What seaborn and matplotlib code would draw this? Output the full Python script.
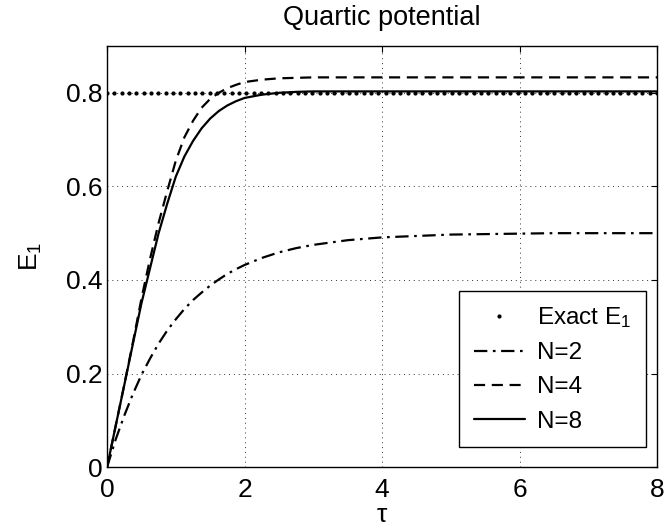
import numpy as np
import pandas as pd
import matplotlib
matplotlib.use("Agg")
import matplotlib.pyplot as plt
import seaborn as sns

# ---- data ----
tau = [0, 0.125, 0.25, 0.375, 0.5, 0.625, 0.75, 0.875, 1.0, 1.125, 1.25, 1.375, 1.5,
       1.625, 1.75, 1.875, 2.0, 2.25, 2.5, 2.75, 3.0, 3.5, 4.0, 4.5, 5.0, 5.5, 6.0,
       6.5, 7.0, 7.5, 8.0]
E_N2 = [0, 0.059, 0.110, 0.156, 0.197, 0.232, 0.264, 0.292, 0.316, 0.338, 0.357,
        0.373, 0.388, 0.401, 0.413, 0.423, 0.432, 0.447, 0.459, 0.468, 0.475, 0.485,
        0.491, 0.494, 0.497, 0.498, 0.499, 0.500, 0.500, 0.500, 0.500]
E_N4 = [0, 0.088, 0.176, 0.266, 0.360, 0.445, 0.522, 0.590, 0.655, 0.705, 0.740,
        0.768, 0.787, 0.800, 0.810, 0.817, 0.823, 0.828, 0.831, 0.832, 0.833, 0.833,
        0.833, 0.833, 0.833, 0.833, 0.833, 0.833, 0.833, 0.833, 0.833]
E_N8 = [0, 0.088, 0.175, 0.263, 0.350, 0.425, 0.500, 0.563, 0.621, 0.664, 0.697,
        0.724, 0.745, 0.761, 0.773, 0.782, 0.789, 0.796, 0.800, 0.802, 0.803, 0.803,
        0.803, 0.803, 0.803, 0.803, 0.803, 0.803, 0.803, 0.803, 0.803]
exact_E1 = 0.800
tau_exact = np.linspace(0, 8, 76)

xticks = [0, 2, 4, 6, 8]
yticks = [0, 0.2, 0.4, 0.6, 0.8]
title = "Quartic potential"

# ---- styling ----
sns.set_style("white")
plt.rcParams['font.family'] = ['Liberation Sans', 'DejaVu Sans']
plt.rcParams['mathtext.fontset'] = 'custom'
plt.rcParams['mathtext.rm'] = 'Liberation Sans'
plt.rcParams['mathtext.it'] = 'Liberation Sans'
plt.rcParams['text.color'] = 'black'
plt.rcParams['axes.labelcolor'] = 'black'
plt.rcParams['xtick.color'] = 'black'
plt.rcParams['ytick.color'] = 'black'

fig = plt.figure(figsize=(6.65, 5.29), dpi=100)
ax = fig.add_axes([0.161, 0.117, 0.827, 0.796])

df_exact = pd.DataFrame({"tau": tau_exact, "E": np.full(len(tau_exact), exact_E1)})
ax.plot(df_exact["tau"], df_exact["E"], linestyle="none", marker=".", markersize=4,
        color="black", label=r"Exact E$_1$", zorder=3)

df = pd.DataFrame({"tau": tau, "N2": E_N2, "N4": E_N4, "N8": E_N8})
sns.lineplot(data=df, x="tau", y="N2", ax=ax, color="black", lw=1.6, label="N=2")
sns.lineplot(data=df, x="tau", y="N4", ax=ax, color="black", lw=1.6, label="N=4")
sns.lineplot(data=df, x="tau", y="N8", ax=ax, color="black", lw=1.6, label="N=8")
lines = ax.get_lines()
lines[1].set_dashes([6, 2.5, 1.2, 2.5])
lines[2].set_dashes([5, 3])

ax.set_xlim(0, 8)
ax.set_ylim(0, 0.9)
ax.set_xticks(xticks)
ax.set_yticks(yticks)
ax.set_xticklabels([str(t) for t in xticks])
ax.set_yticklabels(["0"] + [f"{t:.1f}" for t in yticks[1:]])
ax.tick_params(direction="in", length=4, width=0.8, labelsize=19, colors="black",
               labelcolor="black", top=True, right=True)
ax.tick_params(axis="x", pad=8)
ax.tick_params(axis="y", pad=3)
ax.grid(True, linestyle=(0, (1, 4)), color="black", linewidth=0.7, alpha=0.8)
for s in ax.spines.values():
    s.set_color("black")
    s.set_linewidth(1.0)

ax.set_title(title, fontsize=19.5, pad=15, color="black")
ax.set_xlabel("τ", fontsize=19, labelpad=0.5, color="black")
ax.set_ylabel(r"E$_1$", fontsize=19, labelpad=16, color="black")

leg = ax.legend(loc="lower right", fontsize=17.5, frameon=True, fancybox=False,
                edgecolor="black", handlelength=2.1, handletextpad=0.5,
                borderpad=0.6, labelspacing=0.5, borderaxespad=0,
                bbox_to_anchor=(0.98, 0.0475))
leg.get_frame().set_linewidth(1.0)
leg.get_frame().set_alpha(1)
for t in leg.get_texts():
    t.set_color("black")

fig.savefig("out.png", dpi=100)
